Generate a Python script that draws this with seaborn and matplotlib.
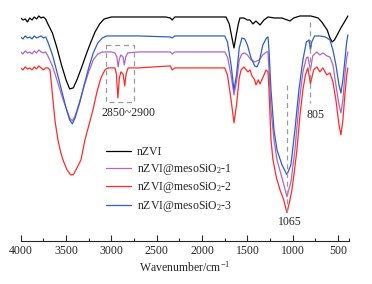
import matplotlib
matplotlib.use("Agg")
import matplotlib.pyplot as plt
import seaborn as sns
import pandas as pd
from matplotlib.ticker import FixedLocator

# FTIR spectra (transmittance, offset, a.u.)
wn_nzvi = [4000, 3975, 3950, 3925, 3900, 3875, 3850, 3825, 3800, 3775, 3750, 3725,
           3700, 3650, 3600, 3550, 3500, 3460, 3420, 3380, 3330, 3280, 3230, 3180, 3130, 3080,
           3000, 2700, 2400, 2350, 2330, 2300, 2000,
           1736, 1700, 1670, 1648, 1625, 1600, 1582,
           1540, 1500, 1472, 1439, 1406, 1361, 1317, 1273,
           1200, 1120, 1031, 990, 920, 800, 720, 680, 620, 590, 565, 540, 510, 470, 430, 392]
t_nzvi = [223, 221, 222, 219, 223, 221, 224, 222, 225, 223, 224, 222,
          217, 208, 193, 176, 161, 152, 153, 161, 173, 186, 198, 209, 217, 222,
          224, 224, 224, 223, 221, 224, 224,
          224, 217, 203, 193, 205, 217, 223,
          223, 221, 221, 217, 220, 216, 221, 224,
          223, 223, 220, 223, 225, 225, 223, 219, 211, 203, 199, 201, 206, 213, 219, 225]

wn_s1 = [4000, 3975, 3950, 3925, 3900, 3875, 3850, 3825, 3800, 3775, 3750, 3725,
         3700, 3650, 3600, 3550, 3500, 3460, 3430, 3400, 3350, 3300, 3250, 3200, 3150, 3100,
         3000, 2960, 2940, 2925, 2912, 2895, 2872, 2857, 2842, 2820,
         2700, 2350, 2330, 2300, 2000, 1750,
         1720, 1680, 1648, 1620, 1590, 1560, 1530, 1500, 1460, 1420, 1395, 1370, 1330, 1290, 1273,
         1262, 1240, 1207, 1174, 1119, 1064, 1020, 976, 932, 888, 850, 833, 805, 780,
         734, 701, 668, 624, 590, 557, 524, 490, 469, 447, 425, 405, 392]
t_s1 = [189, 187, 190, 188, 189, 187, 190, 188, 191, 189, 188, 189,
        185, 175, 161, 146, 133, 123, 120, 125, 139, 155, 169, 181, 187, 189,
        189, 188, 184, 174, 182, 186, 184, 176, 184, 188,
        189, 189, 187, 189, 189, 189,
        184, 166, 146, 159, 181, 187, 188, 186, 181, 179, 180, 181, 186, 189, 189,
        171, 131, 101, 81, 63, 44, 59, 91, 136, 169, 183, 184, 171, 185,
        189, 186, 188, 185, 184, 176, 156, 136, 128, 141, 166, 183, 189]

wn_s2 = [4000, 3975, 3950, 3925, 3900, 3875, 3850, 3825, 3800, 3775, 3750, 3725, 3700,
         3677, 3660, 3644, 3620, 3589, 3560, 3534, 3490, 3450, 3420, 3379, 3335, 3291, 3247,
         3203, 3159, 3115, 3071, 3038,
         2960, 2945, 2928, 2912, 2895, 2872, 2852, 2838, 2815,
         2700, 2350, 2330, 2300, 2000, 1750,
         1720, 1680, 1648, 1620, 1590, 1570, 1538, 1494, 1470, 1450, 1420, 1406, 1380, 1361,
         1317, 1295, 1273,
         1262, 1240, 1218, 1180, 1141, 1100, 1064, 1030, 1009, 980, 954, 920, 888, 860, 833,
         805, 770,
         734, 701, 668, 624, 590, 557, 524, 490, 469, 447, 425, 405, 392]
t_s2 = [173, 171, 174, 172, 173, 171, 174, 172, 175, 173, 171, 173, 173,
        171, 156, 141, 119, 101, 89, 81, 71, 66, 66, 73, 81, 101, 116,
        131, 149, 163, 171, 173,
        173, 167, 143, 163, 169, 167, 155, 167, 173,
        173, 175, 171, 173, 173, 173,
        166, 141, 118, 136, 163, 171, 174, 169, 171, 165, 161, 156, 161, 157,
        166, 171, 169,
        151, 101, 81, 63, 51, 41, 28, 41, 51, 71, 91, 126, 151, 166, 173,
        157, 171,
        174, 169, 173, 166, 168, 159, 141, 116, 106, 121, 146, 166, 173]

wn_s3 = [4000, 3975, 3950, 3925, 3900, 3875, 3850, 3825, 3800, 3775, 3750, 3725,
         3700, 3650, 3600, 3550, 3500, 3460, 3430, 3400, 3350, 3300, 3250, 3200, 3150, 3100, 3050,
         2700, 2350, 2330, 2300, 2000, 1750,
         1720, 1680, 1648, 1620, 1590, 1560, 1530, 1500, 1460, 1420, 1395, 1370, 1330, 1290, 1273,
         1262, 1240, 1207, 1174, 1119, 1064, 1020, 976, 932, 888, 850, 820, 805, 790, 760,
         700, 640, 590, 557, 524, 490, 469, 447, 425, 405, 392]
t_s3 = [204, 202, 205, 203, 204, 202, 205, 203, 204, 205, 203, 204,
        199, 186, 169, 151, 133, 121, 117, 123, 138, 156, 173, 188, 198, 203, 205,
        205, 204, 203, 205, 205, 205,
        199, 176, 151, 166, 193, 203, 202, 196, 183, 175, 174, 179, 196, 203, 204,
        191, 151, 111, 91, 76, 66, 76, 111, 151, 181, 199, 201, 191, 199, 205,
        205, 204, 201, 191, 176, 156, 148, 161, 181, 199, 206]

labels = ["nZVI", "nZVI@mesoSiO$_2$-1", "nZVI@mesoSiO$_2$-2", "nZVI@mesoSiO$_2$-3"]
colors = ["#000000", "#b064c8", "#ff2a2a", "#2f5fc4"]

frames = []
for lab, w, t in zip(labels, [wn_nzvi, wn_s1, wn_s2, wn_s3], [t_nzvi, t_s1, t_s2, t_s3]):
    frames.append(pd.DataFrame({"wn": w, "T": t, "sample": lab}))
df = pd.concat(frames, ignore_index=True)

sns.set_style("white")
plt.rcParams["font.family"] = ["Liberation Serif", "DejaVu Serif"]
plt.rcParams["mathtext.fontset"] = "custom"
plt.rcParams["mathtext.rm"] = "Liberation Serif"
plt.rcParams["mathtext.it"] = "Liberation Serif:italic"

fig = plt.figure(figsize=(3.72, 2.84), dpi=100)
ax = fig.add_axes([0.0556, 0.1525, 0.8825, 0.8123])

sns.lineplot(data=df, x="wn", y="T", hue="sample", hue_order=labels,
             palette=colors, estimator=None, sort=False, linewidth=0.9, ax=ax)

ax.set_xlim(4000, 380)
ax.set_ylim(0, 231)

# annotations
dash = dict(color="#9a9a9a", linestyle=(0, (4, 3)), linewidth=0.9)
ax.plot([3060, 2750, 2750, 3060, 3060], [196, 196, 139, 139, 196], **dash)
ax.plot([1065, 1065], [156, 27], **dash)
ax.plot([805, 805], [219, 138], **dash)
ax.text(2816, 128, "2850~2900", ha="center", va="center", fontsize=8.5)
ax.text(747, 126, "805", ha="center", va="center", fontsize=8.5)
ax.text(1030, 19, "1065", ha="center", va="center", fontsize=8.5)

ax.legend(loc="upper left", bbox_to_anchor=(0.26, 0.41), frameon=False,
          fontsize=8.5, handlelength=2.1, handletextpad=0.5, labelspacing=0.3,
          borderpad=0, borderaxespad=0)

for s in ["left", "top", "right"]:
    ax.spines[s].set_visible(False)
ax.spines["bottom"].set_linewidth(0.8)
ax.set_yticks([])
ax.set_xticks([4000, 3500, 3000, 2500, 2000, 1500, 1000, 500])
ax.xaxis.set_minor_locator(FixedLocator([3750, 3250, 2750, 2250, 1750, 1250, 750, 380]))
ax.tick_params(axis="x", which="major", direction="in", length=4, width=0.8,
               labelsize=8.5, pad=3, bottom=True)
ax.tick_params(axis="x", which="minor", direction="in", length=2.2, width=0.8, bottom=True)
ax.set_xlabel("Wavenumber/cm$^{-1}$", fontsize=8.5, labelpad=2)
ax.set_ylabel("")

fig.savefig("out.png", dpi=100)
